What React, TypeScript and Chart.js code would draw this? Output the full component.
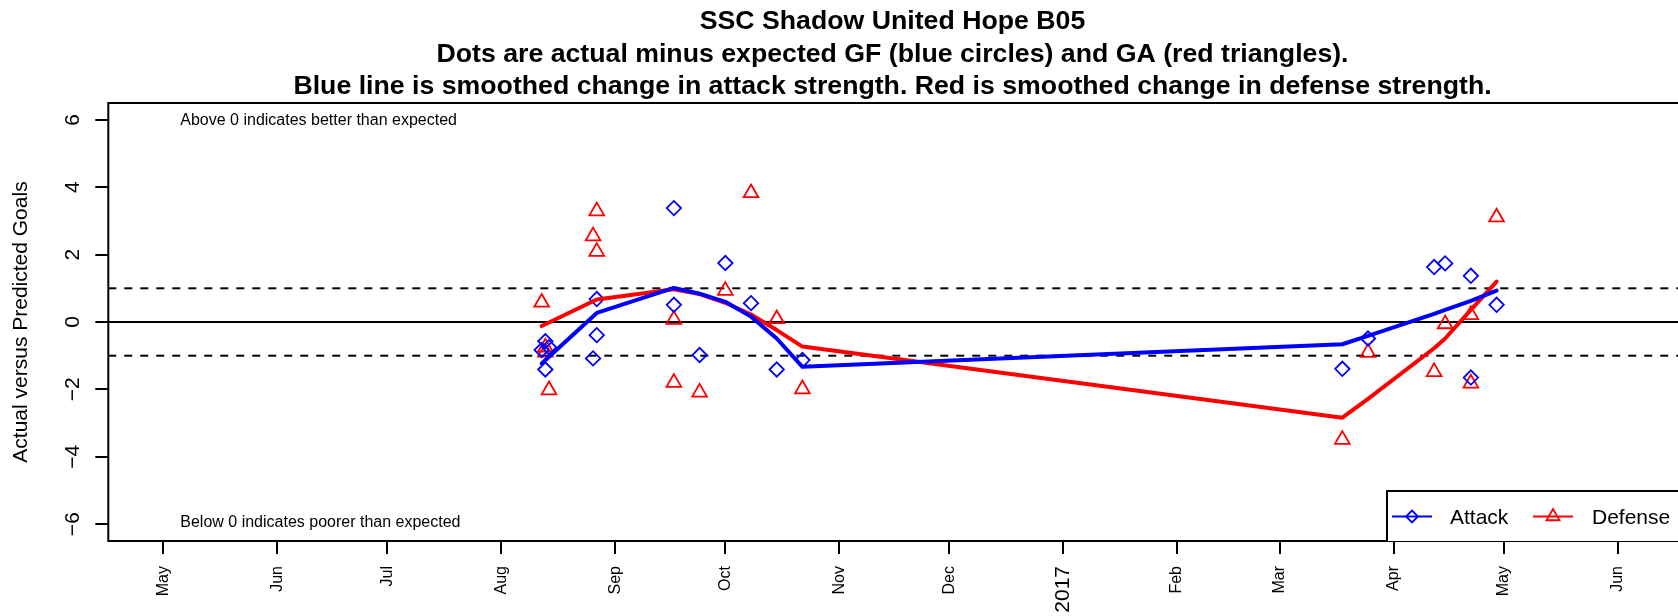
import React, { useEffect, useRef } from "react";
import { Chart, registerables } from "chart.js";

Chart.register(...registerables);

// ---------- text ----------
const titleLines = [
  "SSC Shadow United Hope B05",
  "Dots are actual minus expected GF (blue circles) and GA (red triangles).",
  "Blue line is smoothed change in attack strength. Red is smoothed change in defense strength.",
];
const yAxisTitle = "Actual versus Predicted Goals";
const noteAbove = "Above 0 indicates better than expected";
const noteBelow = "Below 0 indicates poorer than expected";
const legendLabels = ["Attack", "Defense"];

// ---------- data ----------
const gameDates = [
  "2016-08-12", "2016-08-13", "2016-08-13", "2016-08-14",
  "2016-08-26", "2016-08-27", "2016-08-27",
  "2016-09-17", "2016-09-17", "2016-09-24",
  "2016-10-01", "2016-10-08", "2016-10-15", "2016-10-22",
  "2017-03-18", "2017-03-25", "2017-04-12", "2017-04-15",
  "2017-04-22", "2017-04-22", "2017-04-29",
];
const attackDiff = [
  -0.83, -0.57, -1.41, -0.75,
  -1.08, 0.68, -0.39,
  3.38, 0.51, -0.98,
  1.75, 0.56, -1.41, -1.13,
  -1.39, -0.49, 1.63, 1.74,
  1.37, -1.65, 0.51,
];
const defenseDiff = [
  0.58, -0.75, -0.9, -2.02,
  2.55, 3.29, 2.09,
  0.07, -1.8, -2.09,
  0.93, 3.83, 0.09, -1.99,
  -3.49, -0.91, -1.48, -0.06,
  0.21, -1.82, 3.11,
];

const smoothDates = [
  "2016-08-12", "2016-08-27", "2016-09-17", "2016-09-24", "2016-10-01",
  "2016-10-08", "2016-10-15", "2016-10-22", "2017-03-18", "2017-03-25",
  "2017-04-12", "2017-04-15", "2017-04-22", "2017-04-29",
];
const attackSmooth = [-1.23, 0.27, 1.01, 0.84, 0.6, 0.16, -0.49, -1.33, -0.66, -0.41, 0.24, 0.36, 0.63, 0.93];
const defenseSmooth = [-0.12, 0.67, 0.97, 0.83, 0.57, 0.22, -0.24, -0.73, -2.84, -2.28, -0.78, -0.49, 0.36, 1.2];

const xTickDates = [
  "2016-05-01", "2016-06-01", "2016-07-01", "2016-08-01", "2016-09-01", "2016-10-01", "2016-11-01",
  "2016-12-01", "2017-01-01", "2017-02-01", "2017-03-01", "2017-04-01", "2017-05-01", "2017-06-01",
];
const xTickLabels = ["May", "Jun", "Jul", "Aug", "Sep", "Oct", "Nov", "Dec", "2017", "Feb", "Mar", "Apr", "May", "Jun"];
const yTicks = [-6, -4, -2, 0, 2, 4, 6];
const yTickLabels = ["\u22126", "\u22124", "\u22122", "0", "2", "4", "6"];
const refLevels = [1, 0, -1];
const xRange = ["2016-04-16", "2017-06-17"];
const yRange = [-6.5, 6.5];

// ---------- helpers ----------
const FONT = "'Liberation Sans', Arial, Helvetica, sans-serif";
const BLUE = "#0000FF";
const RED = "#FF0000";
const dayOf = (s: string) => {
  const [y, m, d] = s.split("-").map(Number);
  return (Date.UTC(y, m - 1, d) - Date.UTC(2016, 0, 1)) / 86400000;
};
const xMin = dayOf(xRange[0]);
const xMax = dayOf(xRange[1]) + 0.4;
const xTickValues = xTickDates.map(dayOf);

const decorPlugin = {
  id: "decor",
  afterDatasetsDraw(chart: any) {
    const { ctx, chartArea, scales } = chart;
    const ys = scales.y;
    const { left, top, right, bottom } = chartArea;
    ctx.save();
    // plot box (right side lies at the canvas edge)
    ctx.strokeStyle = "#000";
    ctx.lineWidth = 2;
    ctx.beginPath();
    ctx.moveTo(right + 2, top);
    ctx.lineTo(left, top);
    ctx.lineTo(left, bottom);
    ctx.lineTo(right + 2, bottom);
    ctx.stroke();

    // notes
    ctx.fillStyle = "#000";
    ctx.font = `16px ${FONT}`;
    ctx.textAlign = "left";
    ctx.textBaseline = "alphabetic";
    ctx.fillText(noteAbove, left + 72, ys.getPixelForValue(6) + 5.5);
    ctx.fillText(noteBelow, left + 72, ys.getPixelForValue(-6) + 3);

    // legend
    const lx = 1387, ly = 491;
    ctx.fillStyle = "#fff";
    ctx.fillRect(lx, ly, right - lx + 5, bottom - ly);
    ctx.strokeStyle = "#000";
    ctx.lineWidth = 2;
    ctx.beginPath();
    ctx.moveTo(right + 5, ly);
    ctx.lineTo(lx, ly);
    ctx.lineTo(lx, bottom);
    ctx.stroke();
    const cy = 516.5;
    const entries = [
      { color: BLUE, x0: 1392, label: legendLabels[0], tx: 1450, style: "diamond" },
      { color: RED, x0: 1533, label: legendLabels[1], tx: 1592, style: "triangle" },
    ];
    for (const e of entries) {
      ctx.strokeStyle = e.color;
      ctx.lineWidth = 2;
      ctx.beginPath();
      ctx.moveTo(e.x0, cy);
      ctx.lineTo(e.x0 + 40, cy);
      ctx.stroke();
      const mx = e.x0 + 20;
      ctx.beginPath();
      if (e.style === "diamond") {
        const r = 6;
        ctx.moveTo(mx, cy - r);
        ctx.lineTo(mx + r, cy);
        ctx.lineTo(mx, cy + r);
        ctx.lineTo(mx - r, cy);
      } else {
        const r = 7.5;
        ctx.moveTo(mx, cy - r);
        ctx.lineTo(mx + r * 0.866, cy + r * 0.5);
        ctx.lineTo(mx - r * 0.866, cy + r * 0.5);
      }
      ctx.closePath();
      ctx.lineWidth = 1.8;
      ctx.stroke();
      ctx.fillStyle = "#000";
      ctx.font = `21px ${FONT}`;
      ctx.textAlign = "left";
      ctx.textBaseline = "alphabetic";
      ctx.fillText(e.label, e.tx, 523.5);
    }

    // y tick labels (rotated, like R's default)
    ctx.fillStyle = "#000";
    ctx.font = `21px ${FONT}`;
    ctx.textAlign = "center";
    ctx.textBaseline = "alphabetic";
    yTicks.forEach((v, i) => {
      ctx.save();
      ctx.translate(78.5, ys.getPixelForValue(v));
      ctx.rotate(-Math.PI / 2);
      ctx.fillText(yTickLabels[i], 0, 0);
      ctx.restore();
    });

    // y-axis title
    ctx.save();
    ctx.translate(26.5, (top + bottom) / 2);
    ctx.rotate(-Math.PI / 2);
    ctx.fillText(yAxisTitle, 0, 0);
    ctx.restore();

    // titles
    ctx.font = `bold 26.7px ${FONT}`;
    ctx.textAlign = "center";
    const tcx = 892.5;
    const baselines = [29, 61.5, 93.5];
    titleLines.forEach((t, i) => ctx.fillText(t, tcx, baselines[i]));
    ctx.restore();
  },
};

export default function App() {
  const canvasRef = useRef<HTMLCanvasElement | null>(null);

  useEffect(() => {
    const canvas = canvasRef.current;
    if (!canvas) return;

    const pts = (vals: number[], dates: string[]) => vals.map((v, i) => ({ x: dayOf(dates[i]), y: v }));

    const refSets = refLevels.map((lv) => ({
      type: "line" as const,
      data: [{ x: xMin, y: lv }, { x: xMax, y: lv }],
      borderColor: "#000",
      borderWidth: 2,
      borderDash: lv === 0 ? [] : [8, 8],
      pointRadius: 0,
      order: 3,
    }));

    const chart = new Chart(canvas, {
      type: "line",
      data: {
        datasets: [
          {
            label: "Attack smooth",
            data: pts(attackSmooth, smoothDates),
            borderColor: BLUE,
            borderWidth: 4,
            pointRadius: 0,
            tension: 0,
            borderCapStyle: "round",
            borderJoinStyle: "round",
            order: 0,
          },
          {
            label: "Defense smooth",
            data: pts(defenseSmooth, smoothDates),
            borderColor: RED,
            borderWidth: 4,
            pointRadius: 0,
            tension: 0,
            borderCapStyle: "round",
            borderJoinStyle: "round",
            order: 1,
          },
          {
            label: "Attack",
            data: pts(attackDiff, gameDates),
            showLine: false,
            pointStyle: "rectRot",
            pointRadius: 7.2,
            pointBorderWidth: 1.8,
            pointBorderColor: BLUE,
            pointBackgroundColor: "rgba(0,0,0,0)",
            borderColor: BLUE,
            order: 2,
          },
          {
            label: "Defense",
            data: pts(defenseDiff, gameDates),
            showLine: false,
            pointStyle: "triangle",
            pointRadius: 8.5,
            pointBorderWidth: 1.8,
            pointBorderColor: RED,
            pointBackgroundColor: "rgba(0,0,0,0)",
            borderColor: RED,
            order: 2,
          },
          ...refSets,
        ] as any,
      },
      options: {
        animation: false,
        responsive: false,
        devicePixelRatio: 1,
        events: [],
        layout: { padding: { top: 103, right: 0, left: 0, bottom: 0 }, autoPadding: false } as any,
        plugins: {
          legend: { display: false },
          title: { display: false },
          tooltip: { enabled: false },
        },
        scales: {
          x: {
            type: "linear",
            min: xMin,
            max: xMax,
            afterBuildTicks: (s: any) => {
              s.ticks = xTickValues.map((v) => ({ value: v }));
            },
            afterFit: (s: any) => {
              s.height = 75;
            },
            grid: { display: true, drawOnChartArea: false, drawTicks: true, tickLength: 13, color: "#000", lineWidth: 2 },
            border: { display: false },
            ticks: {
              autoSkip: false,
              minRotation: 90,
              maxRotation: 90,
              padding: 12,
              color: "#000",
              font: (c: any) => ({ family: FONT, size: c.tick && c.tick.label === "2017" ? 21 : 16 }),
              callback: (v: any) => {
                const i = xTickValues.indexOf(Number(v));
                return i >= 0 ? xTickLabels[i] : "";
              },
            },
          },
          y: {
            type: "linear",
            min: yRange[0],
            max: yRange[1],
            afterBuildTicks: (s: any) => {
              s.ticks = yTicks.map((v) => ({ value: v }));
            },
            afterFit: (s: any) => {
              s.width = 108.3;
            },
            grid: { display: true, drawOnChartArea: false, drawTicks: true, tickLength: 13, color: "#000", lineWidth: 2 },
            border: { display: false },
            ticks: { display: false },
          },
        },
      } as any,
      plugins: [decorPlugin],
    });

    return () => chart.destroy();
  }, []);

  return (
    <div style={{ position: "absolute", left: 0, top: 0, width: 1678, height: 616, background: "#fff" }}>
      <canvas ref={canvasRef} width={1678} height={616} style={{ width: 1678, height: 616, display: "block" }} />
    </div>
  );
}
